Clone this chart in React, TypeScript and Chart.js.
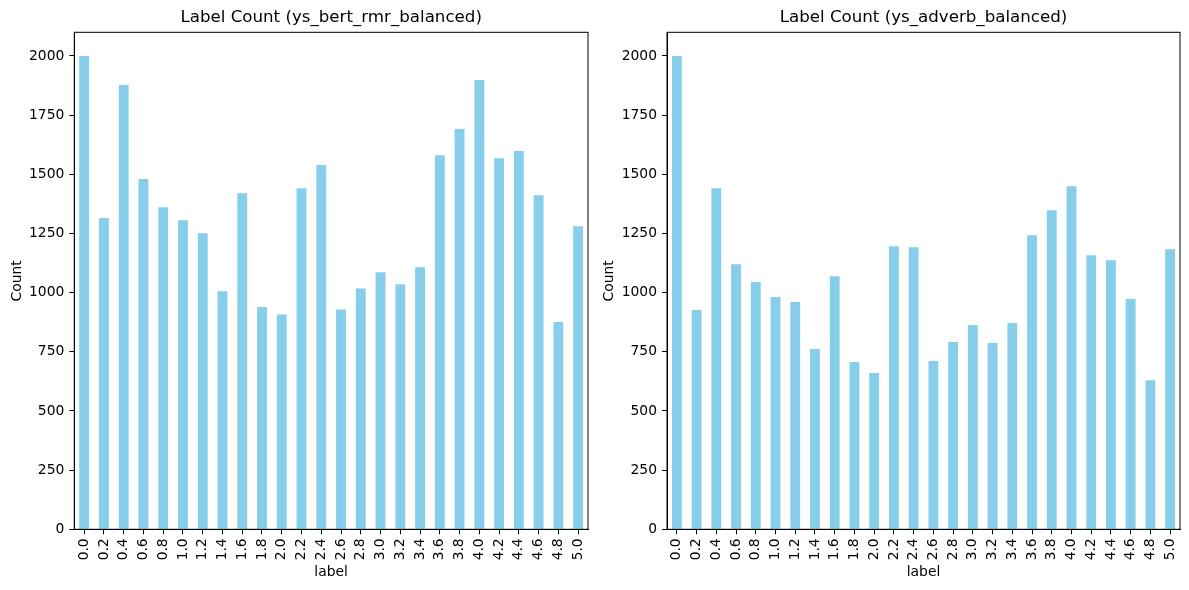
import { useEffect, useRef } from "react";
import { Chart, registerables, type Plugin } from "chart.js";

Chart.register(...registerables);
Chart.defaults.font.family = "'DejaVu Sans', sans-serif";
Chart.defaults.color = "#000";

const labels = [
  "0.0", "0.2", "0.4", "0.6", "0.8", "1.0", "1.2", "1.4", "1.6", "1.8", "2.0", "2.2", "2.4",
  "2.6", "2.8", "3.0", "3.2", "3.4", "3.6", "3.8", "4.0", "4.2", "4.4", "4.6", "4.8", "5.0",
];

const bertCounts = [
  2000, 1315, 1877, 1480, 1361, 1306, 1251, 1006, 1420, 939, 908, 1441, 1539,
  929, 1018, 1086, 1035, 1107, 1581, 1691, 1898, 1568, 1598, 1412, 876, 1281,
];

const adverbCounts = [
  2000, 927, 1441, 1120, 1045, 982, 960, 762, 1069, 707, 660, 1196, 1192,
  711, 791, 863, 787, 872, 1243, 1348, 1450, 1158, 1137, 973, 630, 1183,
];

const yTicks = [0, 250, 500, 750, 1000, 1250, 1500, 1750, 2000];

// matplotlib-style box around the plot area
const framePlugin: Plugin<"bar"> = {
  id: "frame",
  afterDraw(chart) {
    const { ctx, chartArea } = chart;
    ctx.save();
    ctx.strokeStyle = "#000";
    ctx.lineWidth = 1;
    ctx.strokeRect(chartArea.left, chartArea.top, chartArea.right - chartArea.left, chartArea.bottom - chartArea.top);
    ctx.restore();
  },
};

interface CountChartProps {
  title: string;
  counts: number[];
  width: number;
  axisWidth: number;
  rightPad: number;
  countOffset: number;
}

function CountChart({ title, counts, width, axisWidth, rightPad, countOffset }: CountChartProps) {
  const canvasRef = useRef<HTMLCanvasElement>(null);
  const chartRef = useRef<Chart | null>(null);

  useEffect(() => {
    if (!canvasRef.current) return;
    if (chartRef.current) chartRef.current.destroy();

    chartRef.current = new Chart(canvasRef.current, {
      type: "bar",
      data: {
        labels,
        datasets: [
          {
            label: "Count",
            data: counts,
            backgroundColor: "#87ceeb",
            borderWidth: 0,
            barPercentage: 0.5,
            categoryPercentage: 1,
          },
        ],
      },
      plugins: [framePlugin],
      options: {
        responsive: false,
        animation: false,
        layout: { padding: { left: 0, right: rightPad, top: 0, bottom: 0 } },
        plugins: {
          legend: { display: false },
          tooltip: { enabled: false },
          title: {
            display: true,
            text: title,
            fullSize: false,
            color: "#000",
            font: { size: 16.67, weight: "normal", lineHeight: 1.2 },
            padding: { top: 8, bottom: 4.3 },
          },
        },
        scales: {
          x: {
            grid: {
              display: true,
              drawOnChartArea: false,
              drawTicks: true,
              tickLength: 5,
              tickColor: "#000",
              offset: false,
            },
            border: { display: true, color: "#000", width: 1 },
            ticks: {
              minRotation: 90,
              maxRotation: 90,
              autoSkip: false,
              padding: 4,
              color: "#000",
              font: { size: 13.89 },
            },
            title: {
              display: true,
              text: "label",
              color: "#000",
              font: { size: 13.89 },
              padding: { top: 0, bottom: 9.7 },
            },
            afterFit: (scale) => {
              scale.height = 60.7;
              scale.paddingLeft = 0;
              scale.paddingRight = 0;
            },
          },
          y: {
            min: 0,
            max: 2100,
            grid: {
              display: true,
              drawOnChartArea: false,
              drawTicks: true,
              tickLength: 5,
              tickColor: "#000",
            },
            border: { display: true, color: "#000", width: 1 },
            afterBuildTicks: (scale) => {
              scale.ticks = yTicks.map((v) => ({ value: v }));
            },
            ticks: {
              padding: 5,
              color: "#000",
              font: { size: 13.89 },
              callback: (v) => String(v),
            },
            title: {
              display: true,
              text: "Count",
              color: "#000",
              font: { size: 13.89 },
              padding: { top: countOffset, bottom: 0 },
            },
            afterFit: (scale) => {
              scale.width = axisWidth;
            },
          },
        },
      },
    });

    return () => chartRef.current?.destroy();
  }, [title, counts, axisWidth, rightPad, countOffset]);

  return <canvas ref={canvasRef} width={width} height={590} role="img" aria-label={title} />;
}

export default function App() {
  return (
    <div style={{ position: "absolute", left: 0, top: 0, width: 1189, height: 590, overflow: "hidden", background: "#fff" }}>
      <div style={{ position: "absolute", left: 0, top: 0 }}>
        <CountChart
          title="Label Count (ys_bert_rmr_balanced)"
          counts={bertCounts}
          width={594}
          axisWidth={74.3}
          rightPad={6}
          countOffset={8.7}
        />
      </div>
      <div style={{ position: "absolute", left: 594, top: 0 }}>
        <CountChart
          title="Label Count (ys_adverb_balanced)"
          counts={adverbCounts}
          width={595}
          axisWidth={73}
          rightPad={9}
          countOffset={6.7}
        />
      </div>
    </div>
  );
}
